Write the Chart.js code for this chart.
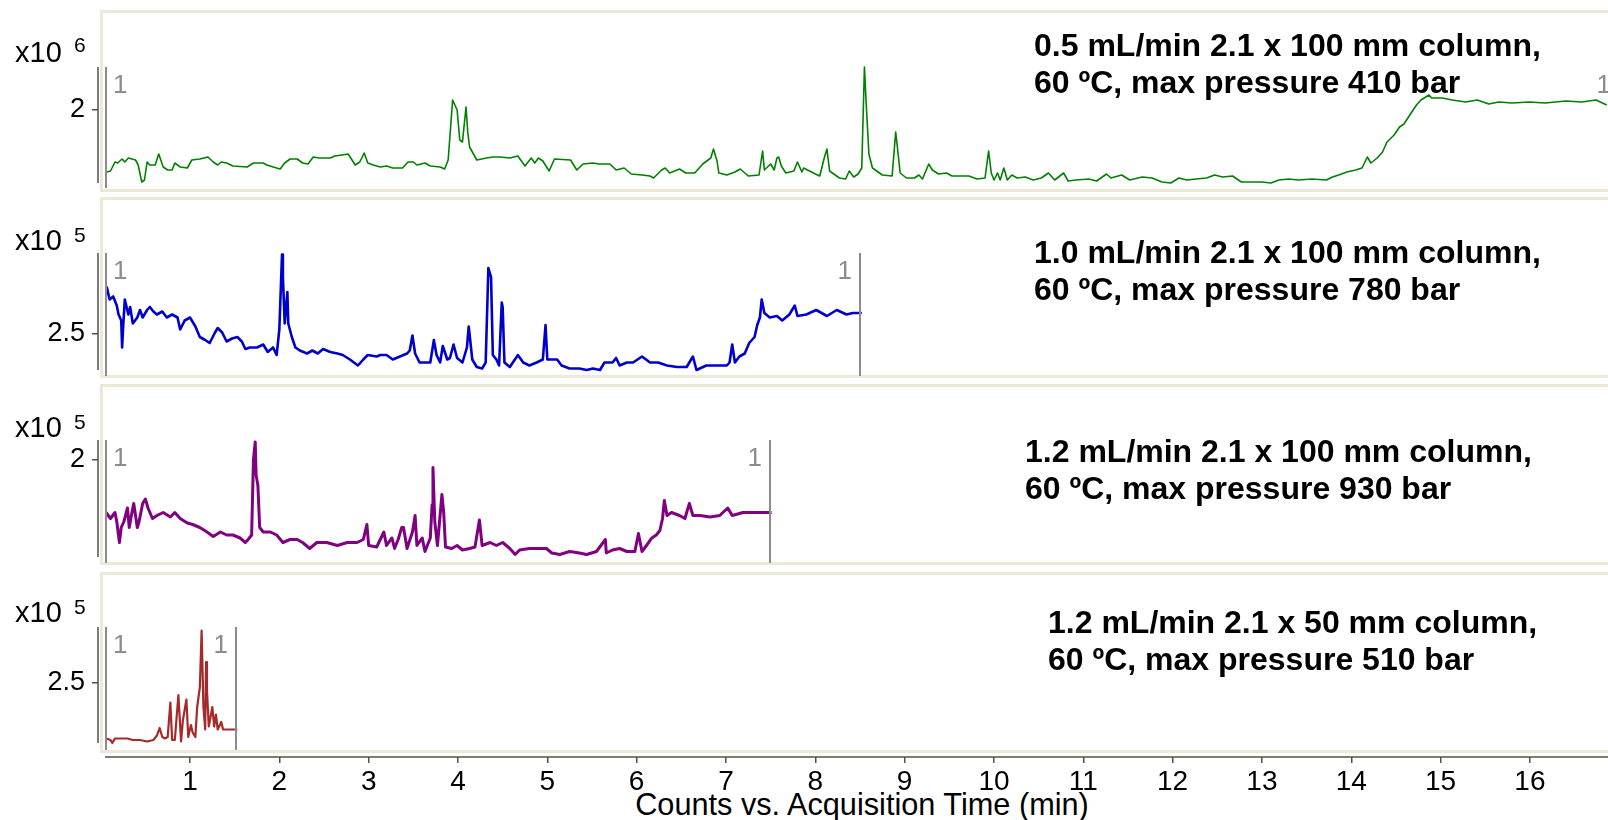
<!DOCTYPE html>
<html>
<head>
<meta charset="utf-8">
<script src="https://cdn.jsdelivr.net/npm/chart.js@4.4.1/dist/chart.umd.min.js"></script>
<style>
  html, body { margin: 0; padding: 0; background: #fff; overflow: hidden; }
  body { width: 1608px; height: 820px; position: relative; font-family: "Liberation Sans", Arial, sans-serif; }
  .frame { position: absolute; left: 100px; width: 1560px; border: 3px solid #ece9d8; box-sizing: border-box; }
  canvas { position: absolute; left: 0; }
  .mult { position: absolute; left: 15px; font-size: 29px; line-height: 29px; color: #000; white-space: nowrap; }
  .expo { position: absolute; left: 74px; font-size: 21px; line-height: 21px; color: #000; }
  .note { position: absolute; font-weight: bold; font-size: 32px; line-height: 37px; color: #000; white-space: nowrap; }
  #xtitle { position: absolute; left: 862px; top: 789px; transform: translateX(-50%); font-size: 30.7px; line-height: 31px; color: #000; white-space: nowrap; }
</style>
</head>
<body>
<div id="xtitle"></div>
<script>
// time (min), counts in units of the panel multiplier
const greenTrace = [
  [0.07,1.38],[0.11,1.39],[0.16,1.48],[0.19,1.47],[0.24,1.51],[0.27,1.48],[0.31,1.52],[0.35,1.51],[0.39,1.50],[0.42,1.45],
  [0.46,1.28],[0.49,1.30],[0.52,1.48],[0.55,1.45],[0.61,1.45],[0.65,1.56],[0.70,1.43],[0.75,1.40],[0.80,1.40],[0.83,1.47],
  [0.89,1.43],[0.97,1.42],[1.02,1.50],[1.11,1.51],[1.20,1.53],[1.26,1.48],[1.31,1.45],[1.35,1.48],[1.41,1.47],[1.48,1.44],
  [1.64,1.43],[1.71,1.47],[1.82,1.47],[1.86,1.45],[1.97,1.42],[2.01,1.41],[2.06,1.47],[2.12,1.51],[2.20,1.51],[2.26,1.47],
  [2.32,1.46],[2.38,1.53],[2.45,1.52],[2.57,1.52],[2.62,1.54],[2.70,1.55],[2.77,1.56],[2.85,1.45],[2.90,1.48],[2.95,1.57],
  [2.99,1.47],[3.05,1.45],[3.13,1.43],[3.20,1.44],[3.27,1.42],[3.38,1.42],[3.44,1.48],[3.50,1.48],[3.54,1.45],[3.63,1.47],
  [3.69,1.44],[3.80,1.43],[3.85,1.41],[3.89,1.50],[3.94,2.10],[3.99,2.00],[4.02,1.70],[4.05,1.68],[4.09,2.03],[4.11,1.77],
  [4.13,1.63],[4.21,1.50],[4.32,1.52],[4.39,1.53],[4.47,1.53],[4.58,1.52],[4.67,1.54],[4.75,1.44],[4.82,1.52],[4.86,1.47],
  [4.90,1.52],[4.95,1.49],[5.02,1.39],[5.08,1.51],[5.26,1.50],[5.33,1.40],[5.40,1.46],[5.51,1.47],[5.58,1.46],[5.70,1.46],
  [5.77,1.40],[5.86,1.42],[5.94,1.36],[6.06,1.35],[6.15,1.34],[6.19,1.32],[6.28,1.40],[6.32,1.42],[6.37,1.37],[6.48,1.41],
  [6.55,1.37],[6.65,1.37],[6.74,1.46],[6.83,1.52],[6.86,1.61],[6.90,1.49],[6.92,1.37],[7.01,1.35],[7.10,1.38],[7.16,1.41],
  [7.25,1.34],[7.37,1.35],[7.41,1.59],[7.43,1.40],[7.50,1.46],[7.54,1.40],[7.57,1.52],[7.59,1.53],[7.62,1.44],[7.67,1.37],
  [7.76,1.39],[7.80,1.48],[7.82,1.44],[7.85,1.38],[7.87,1.42],[8.00,1.36],[8.05,1.34],[8.10,1.52],[8.13,1.61],[8.16,1.39],
  [8.27,1.32],[8.34,1.31],[8.38,1.39],[8.43,1.33],[8.48,1.36],[8.52,1.42],[8.55,2.43],[8.57,2.06],[8.60,1.56],[8.64,1.42],
  [8.75,1.35],[8.86,1.34],[8.90,1.78],[8.92,1.62],[8.95,1.37],[9.02,1.32],[9.11,1.32],[9.16,1.35],[9.20,1.31],[9.27,1.46],
  [9.31,1.40],[9.38,1.36],[9.47,1.37],[9.53,1.34],[9.62,1.34],[9.72,1.34],[9.81,1.31],[9.90,1.32],[9.94,1.59],[9.97,1.37],
  [10.00,1.30],[10.04,1.37],[10.07,1.30],[10.11,1.42],[10.15,1.30],[10.20,1.35],[10.26,1.32],[10.35,1.33],[10.44,1.30],[10.53,1.32],
  [10.61,1.37],[10.68,1.30],[10.78,1.37],[10.83,1.29],[10.92,1.30],[11.06,1.31],[11.15,1.29],[11.26,1.36],[11.31,1.32],[11.43,1.35],
  [11.52,1.30],[11.66,1.33],[11.77,1.32],[11.88,1.28],[11.98,1.27],[12.07,1.32],[12.16,1.30],[12.26,1.31],[12.38,1.32],[12.47,1.35],
  [12.56,1.33],[12.67,1.34],[12.77,1.28],[12.89,1.28],[13.00,1.28],[13.10,1.27],[13.19,1.30],[13.30,1.31],[13.41,1.30],[13.56,1.31],
  [13.72,1.30],[13.79,1.33],[13.86,1.35],[13.95,1.38],[14.05,1.40],[14.12,1.42],[14.18,1.53],[14.22,1.47],[14.29,1.52],[14.35,1.58],
  [14.40,1.68],[14.48,1.75],[14.54,1.83],[14.59,1.86],[14.67,1.97],[14.73,2.05],[14.78,2.10],[14.87,2.15],[14.90,2.12],[15.02,2.12],
  [15.13,2.10],[15.28,2.08],[15.41,2.10],[15.54,2.06],[15.65,2.08],[15.80,2.07],[15.99,2.08],[16.17,2.07],[16.40,2.09],[16.58,2.08],
  [16.74,2.10],[16.86,2.05]
];

const blueTrace = [
  [0.06,2.77],[0.07,2.81],[0.10,2.73],[0.14,2.75],[0.18,2.69],[0.20,2.63],[0.23,2.59],[0.24,2.41],[0.25,2.53],[0.27,2.73],
  [0.31,2.63],[0.33,2.68],[0.36,2.57],[0.41,2.61],[0.44,2.66],[0.47,2.61],[0.52,2.66],[0.55,2.68],[0.59,2.65],[0.63,2.63],
  [0.69,2.65],[0.74,2.61],[0.80,2.63],[0.86,2.61],[0.89,2.53],[0.94,2.59],[1.00,2.61],[1.06,2.55],[1.11,2.48],[1.17,2.46],
  [1.22,2.44],[1.28,2.51],[1.31,2.54],[1.36,2.51],[1.41,2.45],[1.47,2.47],[1.53,2.48],[1.58,2.45],[1.62,2.40],[1.67,2.41],
  [1.75,2.41],[1.82,2.43],[1.87,2.38],[1.93,2.41],[1.97,2.36],[2.00,2.53],[2.03,3.03],[2.04,2.88],[2.06,2.57],[2.09,2.78],
  [2.10,2.57],[2.14,2.48],[2.18,2.41],[2.23,2.39],[2.31,2.37],[2.37,2.39],[2.43,2.37],[2.49,2.40],[2.57,2.38],[2.65,2.37],
  [2.71,2.36],[2.79,2.33],[2.88,2.29],[2.94,2.33],[2.99,2.36],[3.09,2.35],[3.13,2.36],[3.20,2.36],[3.27,2.33],[3.35,2.35],
  [3.43,2.37],[3.46,2.39],[3.49,2.49],[3.52,2.37],[3.57,2.31],[3.69,2.31],[3.73,2.46],[3.76,2.36],[3.80,2.31],[3.83,2.42],
  [3.88,2.33],[3.91,2.34],[3.95,2.43],[3.99,2.34],[4.05,2.31],[4.10,2.41],[4.12,2.55],[4.16,2.33],[4.21,2.28],[4.27,2.27],
  [4.31,2.31],[4.34,2.94],[4.37,2.88],[4.39,2.36],[4.43,2.33],[4.46,2.29],[4.49,2.71],[4.50,2.68],[4.52,2.31],[4.58,2.28],
  [4.66,2.35],[4.67,2.36],[4.73,2.31],[4.80,2.29],[4.88,2.31],[4.95,2.33],[4.98,2.56],[5.00,2.33],[5.11,2.33],[5.16,2.29],
  [5.25,2.27],[5.36,2.27],[5.44,2.26],[5.51,2.27],[5.59,2.26],[5.64,2.31],[5.73,2.31],[5.77,2.34],[5.81,2.29],[5.89,2.31],
  [5.96,2.31],[6.06,2.35],[6.15,2.31],[6.24,2.31],[6.34,2.29],[6.45,2.28],[6.56,2.28],[6.63,2.35],[6.67,2.26],[6.78,2.29],
  [6.90,2.29],[7.01,2.29],[7.04,2.31],[7.07,2.43],[7.10,2.31],[7.15,2.35],[7.21,2.37],[7.26,2.44],[7.32,2.48],[7.35,2.56],
  [7.38,2.61],[7.40,2.73],[7.43,2.64],[7.49,2.61],[7.57,2.62],[7.63,2.59],[7.71,2.63],[7.77,2.69],[7.80,2.62],[7.90,2.63],
  [8.01,2.66],[8.13,2.62],[8.24,2.66],[8.35,2.63],[8.42,2.64],[8.52,2.64]
];

const purpleTrace = [
  [0.06,1.65],[0.11,1.61],[0.16,1.65],[0.18,1.59],[0.21,1.45],[0.23,1.55],[0.26,1.59],[0.30,1.68],[0.32,1.55],[0.35,1.65],
  [0.37,1.71],[0.41,1.55],[0.43,1.59],[0.47,1.71],[0.50,1.74],[0.53,1.68],[0.58,1.61],[0.63,1.63],[0.70,1.65],[0.78,1.62],
  [0.83,1.65],[0.89,1.61],[0.97,1.58],[1.03,1.57],[1.11,1.55],[1.19,1.52],[1.26,1.49],[1.34,1.52],[1.41,1.50],[1.48,1.50],
  [1.56,1.48],[1.62,1.45],[1.65,1.47],[1.69,1.50],[1.71,2.00],[1.73,2.12],[1.74,1.90],[1.76,1.83],[1.78,1.55],[1.82,1.52],
  [1.90,1.52],[1.97,1.50],[2.04,1.45],[2.12,1.47],[2.20,1.47],[2.26,1.45],[2.34,1.41],[2.42,1.45],[2.53,1.45],[2.65,1.43],
  [2.76,1.45],[2.87,1.45],[2.94,1.47],[2.98,1.57],[3.00,1.43],[3.09,1.42],[3.17,1.52],[3.20,1.43],[3.26,1.48],[3.29,1.41],
  [3.33,1.47],[3.37,1.55],[3.39,1.55],[3.43,1.41],[3.49,1.52],[3.52,1.63],[3.54,1.43],[3.60,1.48],[3.63,1.39],[3.69,1.48],
  [3.71,1.70],[3.72,1.95],[3.74,1.59],[3.77,1.43],[3.82,1.77],[3.84,1.65],[3.86,1.42],[3.93,1.41],[3.99,1.43],[4.05,1.40],
  [4.13,1.41],[4.19,1.42],[4.24,1.60],[4.27,1.43],[4.36,1.45],[4.43,1.43],[4.50,1.45],[4.58,1.41],[4.64,1.37],[4.69,1.40],
  [4.80,1.41],[4.92,1.41],[4.99,1.41],[5.05,1.38],[5.14,1.37],[5.25,1.39],[5.36,1.38],[5.44,1.37],[5.55,1.39],[5.65,1.47],
  [5.66,1.38],[5.73,1.40],[5.81,1.41],[5.89,1.39],[5.98,1.39],[6.02,1.51],[6.06,1.39],[6.11,1.43],[6.17,1.48],[6.22,1.50],
  [6.26,1.53],[6.29,1.61],[6.31,1.73],[6.34,1.63],[6.39,1.65],[6.48,1.63],[6.54,1.61],[6.59,1.71],[6.63,1.63],[6.71,1.63],
  [6.82,1.62],[6.93,1.63],[7.02,1.68],[7.07,1.63],[7.19,1.65],[7.30,1.65],[7.41,1.65],[7.51,1.65]
];

const brownTrace = [
  [0.06,2.13],[0.11,2.12],[0.13,2.10],[0.16,2.13],[0.22,2.13],[0.30,2.13],[0.36,2.12],[0.44,2.12],[0.52,2.11],[0.59,2.12],
  [0.63,2.15],[0.66,2.20],[0.69,2.14],[0.72,2.13],[0.75,2.14],[0.78,2.37],[0.80,2.12],[0.83,2.12],[0.87,2.42],[0.90,2.11],
  [0.92,2.25],[0.96,2.39],[0.98,2.14],[1.01,2.22],[1.03,2.17],[1.06,2.14],[1.08,2.34],[1.11,2.47],[1.13,2.85],[1.15,2.34],
  [1.17,2.19],[1.18,2.64],[1.19,2.45],[1.21,2.21],[1.25,2.34],[1.27,2.21],[1.29,2.29],[1.31,2.19],[1.35,2.24],[1.37,2.19],
  [1.41,2.19],[1.47,2.19],[1.50,2.19],[1.53,2.19]
];

const traces = [greenTrace, blueTrace, purpleTrace, brownTrace];
const yTicks = [2, 2.5, 2, 2.5];
const yRanges = [[1.27, 2.43], [2.26, 3.04], [1.3533, 2.1333], [2.0067, 2.8733]];
const exponents = ['6', '5', '5', '5'];
const markerTimes = [[0.054, 17.0], [0.054, 8.50], [0.054, 7.49], [0.054, 1.515]];
const xRange = [-0.03, 16.874];
const xTicks = [1, 2, 3, 4, 5, 6, 7, 8, 9, 10, 11, 12, 13, 14, 15, 16];
const xTitle = 'Counts vs. Acquisition Time (min)';
const notes = [
  ['0.5 mL/min 2.1 x 100 mm column,', '60 ºC, max pressure 410 bar'],
  ['1.0 mL/min 2.1 x 100 mm column,', '60 ºC, max pressure 780 bar'],
  ['1.2 mL/min 2.1 x 100 mm column,', '60 ºC, max pressure 930 bar'],
  ['1.2 mL/min 2.1 x 50 mm column,', '60 ºC, max pressure 510 bar']
];

// layout of each panel (page pixels)
const colors = ['#008000', '#0000cd', '#800080', '#a52a2a'];
const lineWidths = [1.6, 2.6, 3.0, 2.2];
const panels = [
  { frameTop: 10, frameH: 182, canvasH: 182, padTop: 57, padBottom: 9, axisInset: 0, markDrop: 5, multTop: 38, expoTop: 34, noteTop: 27, noteLeft: 1034 },
  { frameTop: 197, frameH: 181, canvasH: 181, padTop: 56, padBottom: 8, axisInset: 0, markDrop: 6, multTop: 226, expoTop: 224, noteTop: 234, noteLeft: 1034 },
  { frameTop: 384, frameH: 181, canvasH: 181, padTop: 56, padBottom: 8, axisInset: 0, markDrop: 6, multTop: 413, expoTop: 411, noteTop: 433, noteLeft: 1025 },
  { frameTop: 572, frameH: 181, canvasH: 248, padTop: 55, padBottom: 0, axisInset: 14, markDrop: 7, multTop: 598, expoTop: 596, noteTop: 604, noteLeft: 1048 }
];
const family = '"Liberation Sans", Arial, sans-serif';

document.getElementById('xtitle').textContent = xTitle;

const decor = {
  id: 'decor',
  afterDatasetsDraw(chart, args, opts) {
    const ctx = chart.ctx;
    const area = chart.chartArea;
    const xs = chart.scales.x;
    const axisBottom = area.bottom - opts.axisInset;
    ctx.save();
    ctx.lineWidth = 1.5;
    ctx.strokeStyle = '#505050';
    ctx.beginPath();
    ctx.moveTo(area.left, area.top);
    ctx.lineTo(area.left, axisBottom);
    ctx.stroke();
    if (opts.xAxisLine) {
      ctx.beginPath();
      ctx.moveTo(area.left + 7, area.bottom);
      ctx.lineTo(area.right, area.bottom);
      ctx.stroke();
    }
    ctx.lineWidth = 2;
    ctx.strokeStyle = '#8c8c8c';
    ctx.fillStyle = '#8c8c8c';
    ctx.font = '26px ' + family;
    opts.markers.forEach(function (t, i) {
      const px = Math.round(xs.getPixelForValue(t));
      ctx.beginPath();
      ctx.moveTo(px, area.top);
      ctx.lineTo(px, axisBottom + opts.markDrop);
      ctx.stroke();
      ctx.textAlign = i === 0 ? 'left' : 'right';
      ctx.fillText('1', i === 0 ? px + 7 : px - 8, area.top + 26);
    });
    ctx.restore();
  }
};

panels.forEach(function (p, k) {
  const frame = document.createElement('div');
  frame.className = 'frame';
  frame.style.top = p.frameTop + 'px';
  frame.style.height = p.frameH + 'px';
  document.body.appendChild(frame);

  const canvas = document.createElement('canvas');
  canvas.width = 1608;
  canvas.height = p.canvasH;
  canvas.style.top = p.frameTop + 'px';
  document.body.appendChild(canvas);

  const mult = document.createElement('div');
  mult.className = 'mult';
  mult.style.top = p.multTop + 'px';
  mult.textContent = 'x10';
  document.body.appendChild(mult);

  const expo = document.createElement('div');
  expo.className = 'expo';
  expo.style.top = p.expoTop + 'px';
  expo.textContent = exponents[k];
  document.body.appendChild(expo);

  const note = document.createElement('div');
  note.className = 'note';
  note.style.top = p.noteTop + 'px';
  note.style.left = p.noteLeft + 'px';
  note.innerHTML = notes[k].join('<br>');
  document.body.appendChild(note);

  const isLast = k === panels.length - 1;
  const xScale = isLast ? {
    type: 'linear', min: xRange[0], max: xRange[1], position: 'bottom',
    afterBuildTicks: function (s) { s.ticks = xTicks.map(function (v) { return { value: v }; }); },
    afterFit: function (s) { s.height = 63; s.paddingLeft = 0; s.paddingRight = 0; },
    grid: { display: true, drawOnChartArea: false, drawTicks: true, tickLength: 6, color: '#505050', lineWidth: 1.5 },
    border: { display: false },
    ticks: { color: '#000', font: { size: 28, family: family }, padding: 2, maxRotation: 0, autoSkip: false }
  } : { type: 'linear', min: xRange[0], max: xRange[1], display: false };

  new Chart(canvas.getContext('2d'), {
    type: 'line',
    data: {
      datasets: [{
        data: traces[k].map(function (pt) { return { x: pt[0], y: pt[1] }; }),
        borderColor: colors[k],
        borderWidth: lineWidths[k],
        borderJoinStyle: 'round',
        pointRadius: 0,
        fill: false,
        tension: 0,
        clip: 6
      }]
    },
    options: {
      responsive: false,
      animation: false,
      events: [],
      layout: { padding: { top: p.padTop, bottom: p.padBottom, left: 0, right: 0 } },
      plugins: {
        legend: { display: false },
        tooltip: { enabled: false },
        decor: { markers: markerTimes[k], axisInset: p.axisInset, markDrop: p.markDrop, xAxisLine: isLast }
      },
      scales: {
        x: xScale,
        y: {
          type: 'linear', min: yRanges[k][0], max: yRanges[k][1], position: 'left',
          afterBuildTicks: function (s) { s.ticks = [{ value: yTicks[k] }]; },
          afterFit: function (s) { s.width = 98; s.paddingTop = 0; s.paddingBottom = 0; },
          grid: { display: true, drawOnChartArea: false, drawTicks: true, tickLength: 6, color: '#505050', lineWidth: 1.5 },
          border: { display: false },
          ticks: { color: '#000', font: { size: 27, family: family }, padding: 7, callback: function (v) { return String(v); } }
        }
      }
    },
    plugins: [decor]
  });
});
</script>
</body>
</html>
